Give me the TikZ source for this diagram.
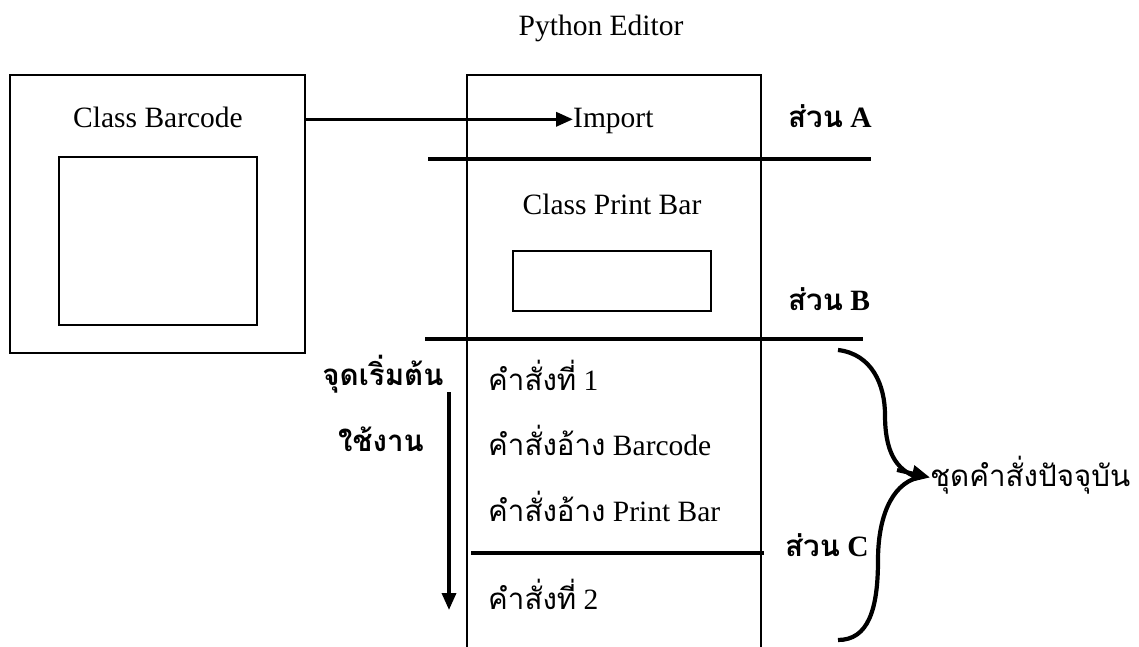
\documentclass[tikz,border=0pt]{standalone}
\usepackage{fontspec}
\setmainfont{Liberation Serif}
\newfontfamily\thaifont[Script=Thai,Scale=1.0]{Loma}
\usetikzlibrary{arrows.meta}
\tikzset{
  txt/.style={inner sep=0pt,anchor=base west,font=\fontsize{29.5}{34}\selectfont},
  ctxt/.style={inner sep=0pt,anchor=base,font=\fontsize{29.5}{34}\selectfont},
  boxline/.style={line width=2.3pt},
  sepline/.style={line width=3.8pt},
  arr/.style={line width=3.5pt,-{Triangle[length=17pt,width=14pt]}},
  brace/.style={line width=4.2pt},
}
\begin{document}
\begin{tikzpicture}[x=1pt,y=-1pt]
\useasboundingbox (0,0) rectangle (1139,647);
% title
\node[ctxt] (title) at (601,36) {Python Editor};
% Class Barcode box
\node[draw,boxline,minimum width=295pt,minimum height=278pt,inner sep=0pt] (barcode) at (157.5,213.7) {};
\node[draw,boxline,minimum width=198pt,minimum height=168pt,inner sep=0pt] (barinner) at (158,241) {};
\node[ctxt] (bartxt) at (158,128) {Class Barcode};
% editor box
\coordinate (edBL) at (467,650);
\coordinate (edTL) at (467,74.7);
\coordinate (edTR) at (761,74.7);
\coordinate (edBR) at (761,650);
\draw[boxline] (edBL) -- (edTL) -- (edTR) -- (edBR);
% import
\node[txt] (imp) at (573,128) {Import};
\draw[arr] (barcode.east |- 0,119.3) -- (imp.west |- 0,119.3);
% separators
\coordinate (aL) at (428,159); \coordinate (aR) at (871,159);
\draw[sepline] (aL) -- (aR);
\coordinate (bL) at (425,339.3); \coordinate (bR) at (863,339.3);
\draw[sepline] (bL) -- (bR);
\coordinate (cL) at (471,553.3); \coordinate (cR) at (764,553.3);
\draw[sepline] (cL) -- (cR);
% class print bar
\node[ctxt] (pbtxt) at (612,214) {Class Print Bar};
\node[draw,boxline,minimum width=198pt,minimum height=59.7pt,inner sep=0pt] (pbinner) at (612,281) {};
% section labels
\node[txt] (secA) at (788,128) {{\thaifont\bfseries ส่วน} \textbf{A}};
\node[txt] (secB) at (788,310) {{\thaifont\bfseries ส่วน} \textbf{B}};
\node[txt] (secC) at (785,556.7) {{\thaifont\bfseries ส่วน} \textbf{C}};
% left labels
\node[txt,anchor=base] (start) at (383,385) {\thaifont\bfseries จุดเริ่มต้น};
\node[txt,anchor=base] (use) at (381,451.7) {\thaifont\bfseries ใช้งาน};
\coordinate (flowTop) at (449,392);
\coordinate (flowBot) at (449,610);
\draw[arr] (flowTop) -- (flowBot);
% statements
\node[txt] (s1) at (488,390) {{\thaifont คำสั่งที่} 1};
\node[txt] (s2) at (488,455.7) {{\thaifont คำสั่งอ้าง} Barcode};
\node[txt] (s3) at (488,521.7) {{\thaifont คำสั่งอ้าง} Print Bar};
\node[txt] (s4) at (488,609) {{\thaifont คำสั่งที่} 2};
% current set
\node[txt] (cur) at (930,486.7) {\thaifont ชุดคำสั่งปัจจุบัน};
\coordinate (brTop) at (838,350);
\coordinate (brBot) at (838,640);
\coordinate (brTip) at (918,477.5);
\draw[brace] (brTop) .. controls (872,354) and (885,385) .. (885,415)
   .. controls (885,450) and (895,470) .. (brTip);
\draw[brace] (brTip) .. controls (890,485) and (878,520) .. (878,560)
   .. controls (878,610) and (868,640) .. (brBot);
\draw[line width=4pt,-{Triangle[length=18pt,width=16pt]}] (897,470) -- (cur.west |- 0,477.5);
\end{tikzpicture}
\end{document}
